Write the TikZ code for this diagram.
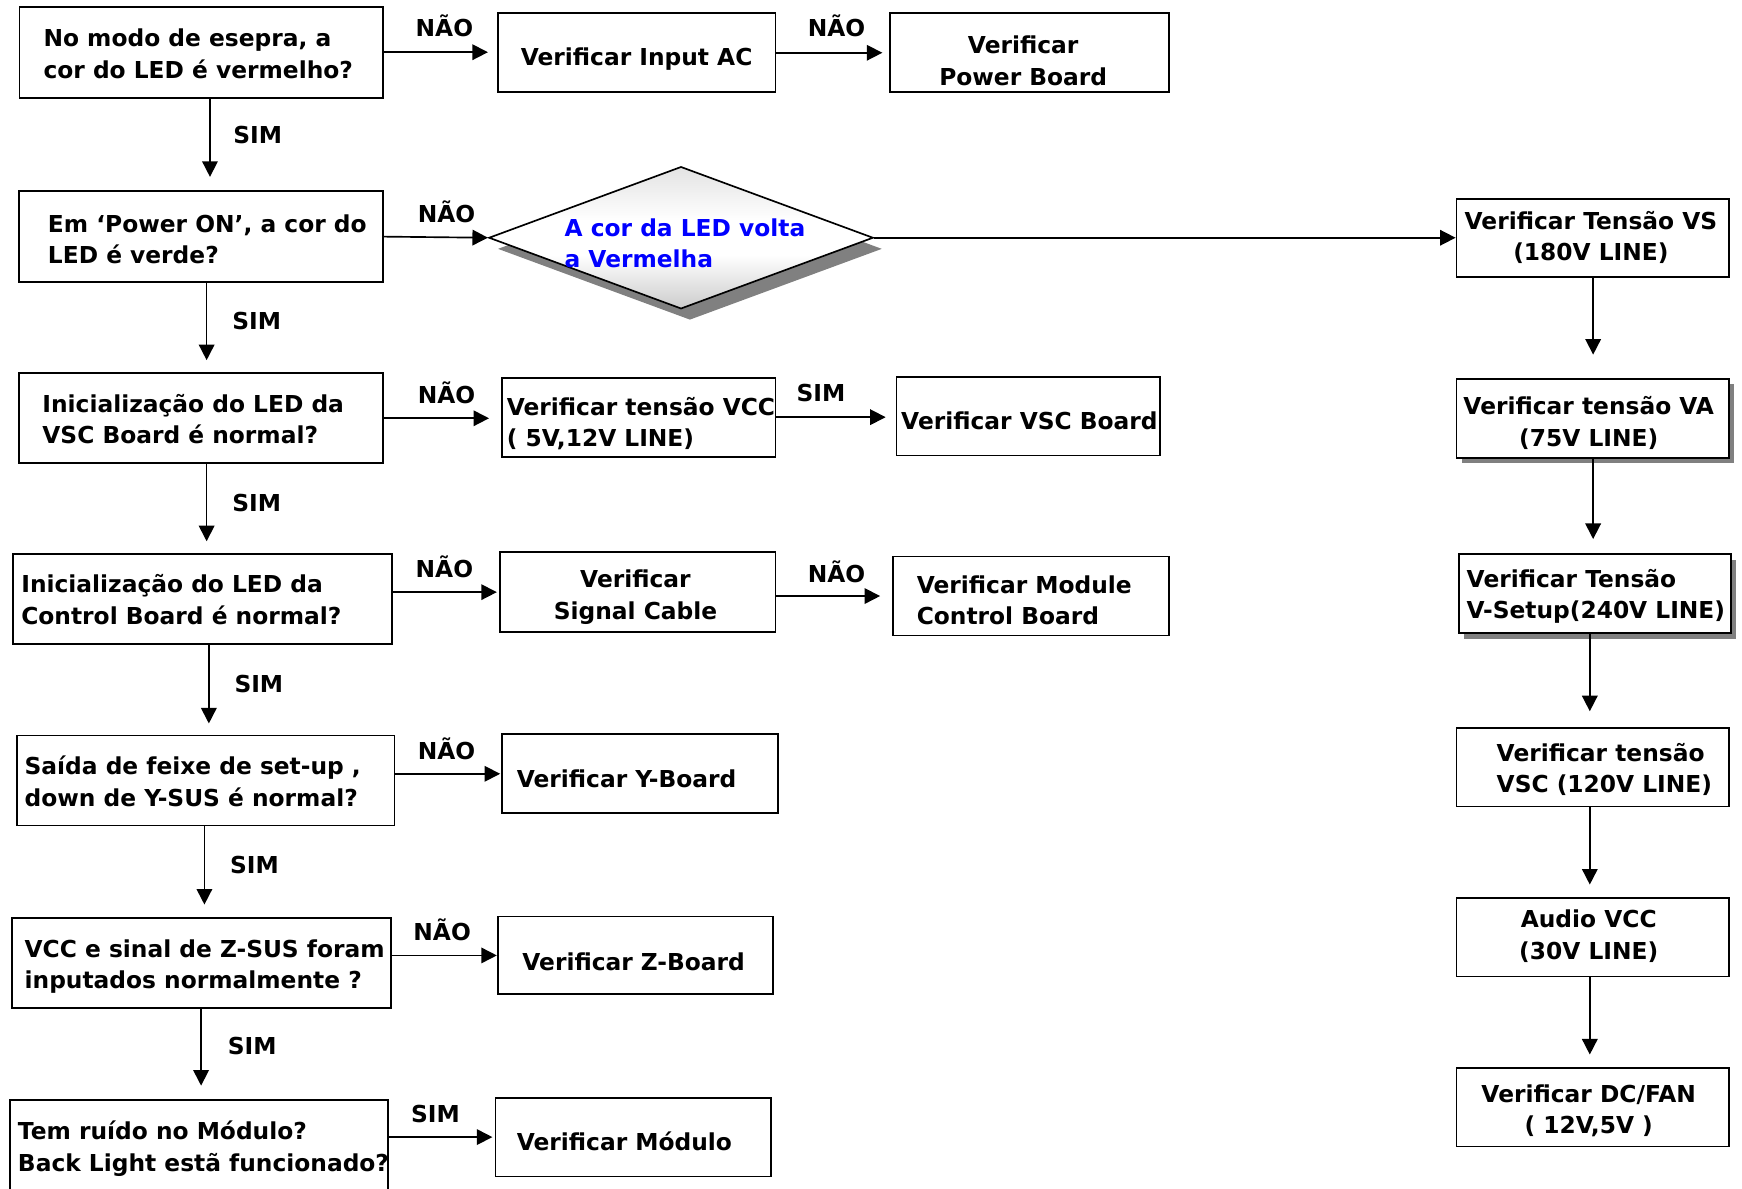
\documentclass[tikz,border=0pt]{standalone}
\usepackage{fontspec}
\setmainfont{DejaVu Sans}
\usetikzlibrary{arrows.meta,shapes.geometric,shadows,calc}

% light grey at the tips, white across the middle
\pgfdeclareverticalshading{decshade}{100bp}{%
  color(0bp)=(black!20); color(25bp)=(black!20); color(44bp)=(white);
  color(56bp)=(white); color(75bp)=(black!11); color(100bp)=(black!11)}

\begin{document}
\begin{tikzpicture}[x=1pt,y=-1pt,
  box/.style={draw=black, line width=1.6pt, fill=white, inner sep=0pt, rectangle},
  shadowed/.style={drop shadow={shadow xshift=5pt, shadow yshift=-5pt, fill=gray, opacity=1}},
  txt/.style={font=\bfseries\fontsize{21}{28.5}\selectfont, inner sep=0pt, align=left,
    execute at begin node=\strut, execute at end node=\strut},
  ctxt/.style={txt, align=center},
  lbl/.style={txt},
  arr/.style={line width=1.5pt, -{Triangle[length=14pt,width=14pt]}},
]
\useasboundingbox (0,0) rectangle (1568,1070);

% ---- left column: questions ----
\node[box, minimum width=327pt, minimum height=82pt] (b1) at (181,47) {};
\node[txt, anchor=west] (t1) at (39,52.5) {No modo de esepra, a\\cor do LED é vermelho?};
\node[box, minimum width=328pt, minimum height=82pt] (b4) at (181,213) {};
\node[txt, anchor=west] (t4) at (43,219.5) {Em ‘Power ON’, a cor do\\LED é verde?};
\node[box, minimum width=328pt, minimum height=81pt] (b5) at (181,376.5) {};
\node[txt, anchor=west] (t5) at (38,381.5) {Inicialização do LED da\\VSC Board é normal?};
\node[box, minimum width=341pt, minimum height=81pt] (b8) at (182.5,539.5) {};
\node[txt, anchor=west] (t8) at (19,544) {Inicialização do LED da\\Control Board é normal?};
\node[box, minimum width=340pt, minimum height=81pt] (b11) at (185,702.5) {};
\node[txt, anchor=west] (t11) at (22,707.5) {Saída de feixe de set-up ,\\down de Y-SUS é normal?};
\node[box, minimum width=341pt, minimum height=81pt] (b13) at (181.5,866.5) {};
\node[txt, anchor=west] (t13) at (22,872) {VCC e sinal de Z-SUS foram\\inputados normalmente ?};
\node[box, minimum width=340pt, minimum height=100pt] (b15) at (179,1040) {};
\node[txt, anchor=west] (t15) at (16,1036) {Tem ruído no Módulo?\\Back Light estã funcionado?};

% ---- middle columns: checks ----
\node[box, minimum width=250pt, minimum height=71pt] (b2) at (573,47.5) {};
\node[ctxt] (t2) at (573,53) {Verificar Input AC};
\node[box, minimum width=251pt, minimum height=71pt] (b3) at (926.5,47.5) {};
\node[ctxt] (t3) at (921,59) {Verificar\\Power Board};
\node[diamond, draw=black, line width=1.5pt, inner sep=0pt, shape aspect=2.7,
  minimum width=346pt, minimum height=128pt, shading=decshade,
  drop shadow={shadow xshift=8pt, shadow yshift=-10pt, fill=gray, opacity=1}] (dec) at (613,214) {};
\node[txt, anchor=west, text=blue] (tdec) at (508,223) {A cor da LED volta\\a Vermelha};
\node[box, minimum width=246pt, minimum height=71pt] (b6) at (575,375.5) {};
\node[txt, anchor=west] (t6) at (456,384) {Verificar tensão VCC\\( 5V,12V LINE)};
\node[box, minimum width=237pt, minimum height=71pt] (b7) at (925.5,374.5) {};
\node[txt, anchor=west] (t7) at (811,380.5) {Verificar VSC Board};
\node[box, minimum width=248pt, minimum height=72pt] (b9) at (574,533) {};
\node[ctxt] (t9) at (572,539.5) {Verificar\\Signal Cable};
\node[box, minimum width=248pt, minimum height=71pt] (b10) at (928,536.5) {};
\node[txt, anchor=west] (t10) at (825,544.5) {Verificar Module\\Control Board};
\node[box, minimum width=248pt, minimum height=71pt] (b12) at (576,696.5) {};
\node[txt, anchor=west] (t12) at (465,703.5) {Verificar Y-Board};
\node[box, minimum width=248pt, minimum height=70pt] (b14) at (572,860) {};
\node[txt, anchor=west] (t14) at (470,867.5) {Verificar Z-Board};
\node[box, minimum width=248pt, minimum height=71pt] (b16) at (570,1023.5) {};
\node[txt, anchor=west] (t16) at (465,1029.5) {Verificar Módulo};

% ---- right column: supply lines ----
\node[box, minimum width=245pt, minimum height=70pt] (r1) at (1433.5,214) {};
\node[ctxt] (tr1) at (1432,216.5) {Verificar Tensão VS\\(180V LINE)};
\node[box, shadowed, minimum width=245pt, minimum height=71pt] (r2) at (1433.5,376.5) {};
\node[ctxt] (tr2) at (1430,383.5) {Verificar tensão VA\\(75V LINE)};
\node[box, shadowed, minimum width=245pt, minimum height=71pt] (r3) at (1435.5,534.5) {};
\node[txt, anchor=west] (tr3) at (1320,539) {Verificar Tensão\\V-Setup(240V LINE)};
\node[box, minimum width=245pt, minimum height=71pt] (r4) at (1433.5,690.5) {};
\node[txt, anchor=west] (tr4) at (1347,695.5) {Verificar tensão\\VSC (120V LINE)};
\node[box, minimum width=245pt, minimum height=71pt] (r5) at (1433.5,843.5) {};
\node[ctxt] (tr5) at (1430,845.5) {Audio VCC\\(30V LINE)};
\node[box, minimum width=245pt, minimum height=71pt] (r6) at (1433.5,996.5) {};
\node[ctxt] (tr6) at (1430,1002.5) {Verificar DC/FAN\\( 12V,5V )};

% ---- horizontal connectors ----
\draw[arr, shorten >=8pt] (b1.east) -- (b1.east -| b2.west);
\draw[arr, shorten >=6pt] (b2.east) -- (b2.east -| b3.west);
\draw[arr] (b4.east) -- (dec.west);
\draw[arr] (dec.east) -- (r1.west);
\draw[arr, shorten >=11pt] (b5.east) -- (b5.east -| b6.west);
\draw[arr, shorten >=9pt] (b6.east) -- (b6.east -| b7.west);
\draw[arr, shorten >=2pt] (b9.west -| b8.east) -- (b9.west);
\draw[arr, shorten >=11pt] (b10.west -| b9.east) -- (b10.west);
\draw[arr, shorten >=1pt] (b12.west -| b11.east) -- (b12.west);
\draw[arr] (b14.west -| b13.east) -- (b14.west);
\draw[arr, shorten >=2pt] (b16.west -| b15.east) -- (b16.west);

% ---- vertical connectors ----
\draw[arr, shorten >=12pt] ($(b1.south)+(8,0)$) -- ($(b4.north)+(8,0)$);
\draw[arr, shorten >=11pt] ($(b4.south)+(5,0)$) -- ($(b5.north)+(5,0)$);
\draw[arr, shorten >=11pt] ($(b5.south)+(5,0)$) -- ($(b8.north)+(3.5,0)$);
\draw[arr, shorten >=10pt] ($(b8.south)+(5.5,0)$) -- ($(b11.north)+(3,0)$);
\draw[arr, shorten >=11pt] ($(b11.south)+(-1,0)$) -- ($(b13.north)+(2.5,0)$);
\draw[arr, shorten >=12pt] ($(b13.south)+(-0.5,0)$) -- ($(b15.north)+(2,0)$);
\draw[arr, shorten >=21pt] ($(r1.south)+(0.5,0)$) -- ($(r2.north)+(0.5,0)$);
\draw[arr, shorten >=13pt] ($(r2.south)+(0.5,0)$) -- ($(r3.north)+(-1.5,0)$);
\draw[arr, shorten >=14pt] ($(r3.south)+(-4.5,0)$) -- ($(r4.north)+(-2.5,0)$);
\draw[arr, shorten >=11pt] ($(r4.south)+(-2.5,0)$) -- ($(r5.north)+(-2.5,0)$);
\draw[arr, shorten >=11pt] ($(r5.south)+(-2.5,0)$) -- ($(r6.north)+(-2.5,0)$);

% ---- connector labels ----
\node[lbl] (l1) at (400,27.5) {NÃO};
\node[lbl] (l2) at (753,27.5) {NÃO};
\node[lbl] (l3) at (232,123.5) {SIM};
\node[lbl] (l4) at (402,194.5) {NÃO};
\node[lbl] (l5) at (231,290.5) {SIM};
\node[lbl] (l6) at (402,357.5) {NÃO};
\node[lbl] (l7) at (739,355.5) {SIM};
\node[lbl] (l8) at (231,454.5) {SIM};
\node[lbl] (l9) at (400,514.5) {NÃO};
\node[lbl] (l10) at (753,518.5) {NÃO};
\node[lbl] (l11) at (233,617.5) {SIM};
\node[lbl] (l12) at (402,677.5) {NÃO};
\node[lbl] (l13) at (229,780.5) {SIM};
\node[lbl] (l14) at (398,840.5) {NÃO};
\node[lbl] (l15) at (227,943.5) {SIM};
\node[lbl] (l16) at (392,1004.5) {SIM};
\end{tikzpicture}
\end{document}
